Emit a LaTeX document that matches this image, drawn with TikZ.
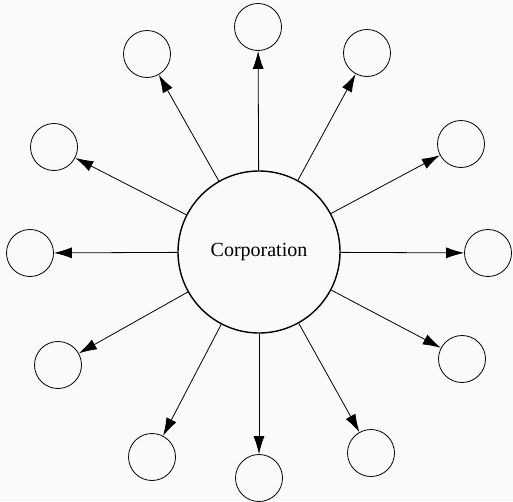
\documentclass[tikz,border=0pt]{standalone}
\usepackage{fontspec}
\setmainfont{Liberation Serif}
\usetikzlibrary{arrows.meta}

\begin{document}
\begin{tikzpicture}[x=1pt, y=-1pt,
    hub/.style={draw, circle, line width=1.4pt, minimum size=162pt, inner sep=0pt, font=\fontsize{20}{24}\selectfont},
    party/.style={draw, circle, line width=0.8pt, minimum size=47pt, inner sep=0pt},
    link/.style={-{Latex[length=18pt, width=11pt]}, line width=0.8pt}]
    \fill[black!2] (0,0) rectangle (513,501);
    \useasboundingbox (0,0) rectangle (513,501);

    % Create main node
    \node[hub] (corp) at (259,252) {Corporation};

    % Surrounding circles, clockwise from the top
    \node[party] (c1) at (258,27) {};
    \node[party] (c2) at (367,53) {};
    \node[party] (c3) at (461,144) {};
    \node[party] (c4) at (488,253) {};
    \node[party] (c5) at (462,359) {};
    \node[party] (c6) at (371,453) {};
    \node[party] (c7) at (259,478) {};
    \node[party] (c8) at (152,457) {};
    \node[party] (c9) at (58,365) {};
    \node[party] (c10) at (30,253) {};
    \node[party] (c11) at (54,147) {};
    \node[party] (c12) at (147,54) {};

    % Arrows out of the corporation
    \draw[link] (corp) -- (c1);
    \draw[link] (corp) -- (c2);
    \draw[link] (corp) -- (c3);
    \draw[link] (corp) -- (c4);
    \draw[link] (corp) -- (c5);
    \draw[link] (corp) -- (c6);
    \draw[link] (corp) -- (c7);
    \draw[link] (corp) -- (c8);
    \draw[link] (corp) -- (c9);
    \draw[link] (corp) -- (c10);
    \draw[link] (corp) -- (c11);
    \draw[link] (corp) -- (c12);
\end{tikzpicture}
\end{document}
